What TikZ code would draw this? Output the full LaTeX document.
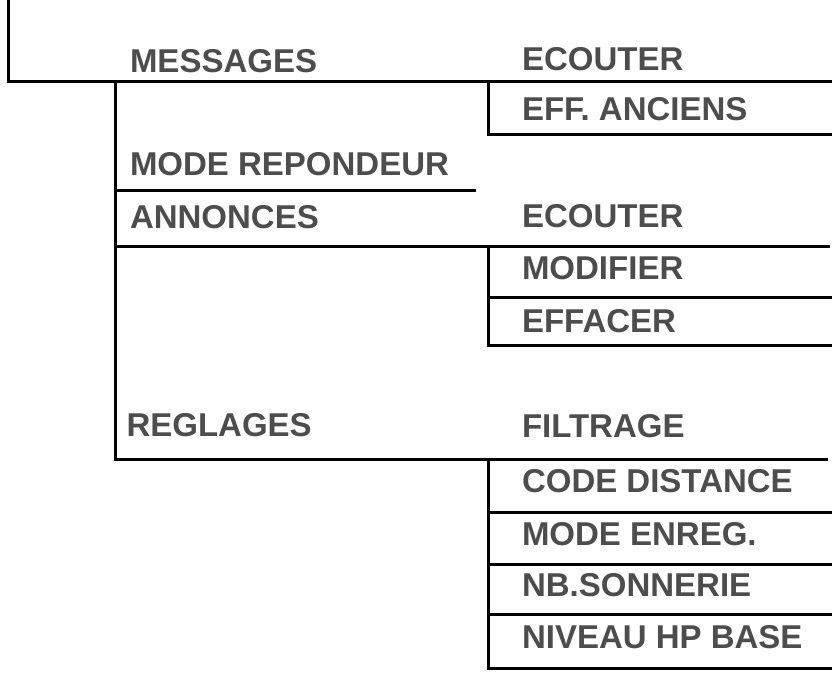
\documentclass[tikz,border=0pt]{standalone}
\usepackage{fontspec}
\setmainfont{Liberation Sans}
\definecolor{txtgray}{HTML}{4D4D4D}
\begin{document}
\begin{tikzpicture}[x=1pt,y=-1pt,
  menuline/.style={line width=3pt,black,line join=miter},
  lbl/.style={anchor=base west,inner sep=0pt,outer sep=0pt,text=txtgray,
    font=\fontsize{33}{36}\selectfont\bfseries}]
\useasboundingbox (0,0) rectangle (840,678);
% lines
\draw[menuline] (8,-2) -- (8,81) -- (832,81);
\draw[menuline] (115,81) -- (115,459) -- (828,459);
\draw[menuline] (115,190.5) -- (476,190.5);
\draw[menuline] (115,246.7) -- (830,246.7);
\draw[menuline] (488,81) -- (488,134) -- (832,134);
\draw[menuline] (488,246.7) -- (488,345) -- (832,345);
\draw[menuline] (488,297) -- (832,297);
\draw[menuline] (488,459) -- (488,668) -- (832,668);
\draw[menuline] (488,512) -- (832,512);
\draw[menuline] (488,564) -- (832,564);
\draw[menuline] (488,614) -- (832,614);
% labels
\node[lbl] (msg) at (130,72) {MESSAGES};
\node[lbl] (ec1) at (522,70) {ECOUTER};
\node[lbl] (eff) at (522,120.5) {EFF. ANCIENS};
\node[lbl] (mode) at (130,175) {MODE REPONDEUR};
\node[lbl] (ann) at (130,228) {ANNONCES};
\node[lbl] (ec2) at (522,227.5) {ECOUTER};
\node[lbl] (mod) at (522,279) {MODIFIER};
\node[lbl] (efa) at (522,332.5) {EFFACER};
\node[lbl] (reg) at (126.5,436.5) {REGLAGES};
\node[lbl] (fil) at (522,437) {FILTRAGE};
\node[lbl] (code) at (522,492) {CODE DISTANCE};
\node[lbl] (enr) at (522,545) {MODE ENREG.};
\node[lbl] (nb) at (522,596) {NB.SONNERIE};
\node[lbl] (niv) at (522,648) {NIVEAU HP BASE};
\end{tikzpicture}
\end{document}
